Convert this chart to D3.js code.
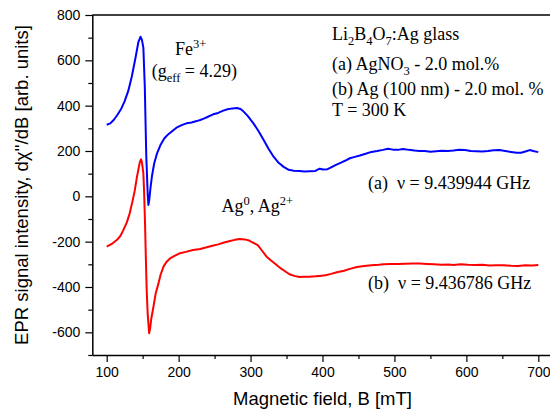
<!DOCTYPE html>
<html>
<head>
<meta charset="utf-8">
<script src="https://cdn.jsdelivr.net/npm/d3@7"></script>
<style>
  html, body { margin: 0; padding: 0; background: #fff; }
  svg { display: block; }
</style>
</head>
<body>
<svg id="chart" width="550" height="414"></svg>
<script>
// ---- data ----
const fieldA = [100,105,110,115,120,125,130,135,140,144,147,149,151,153,155,157,158,159,161,163,166,170,175,180,185,190,197,205,211,218,225,230,235,240,248,255,262,268,275,281,286,290,296,304,311,318,325,332,339,346,353,360,368,375,382,390,396,401,407,412,418,425,432,438,445,452,460,468,476,484,491,498,505,512,520,528,535,542,550,558,566,574,582,590,598,606,614,622,630,638,646,654,662,670,676,682,688,693,700];
const signalA = [316,322,338,360,385,420,465,530,610,680,704,690,655,480,180,10,-38,-20,40,90,145,190,228,255,272,285,303,315,322,326,332,337,343,350,362,368,378,384,388,390,385,375,355,322,288,250,210,175,148,130,117,113,112,110,111,112,122,118,120,128,138,148,158,168,174,180,188,196,200,205,210,206,205,209,205,202,200,200,197,199,201,200,202,205,204,200,199,198,200,203,204,200,196,192,192,198,204,200,195];

const fieldB = [100,107,114,119,123,128,132,136,139,142,144,146,147.7,149,151,152,153.3,154.5,155.6,157,159,160.5,162,165,168,172,175,179,183,188,195,202,210,220,230,239,247,255,262,270,278,285,292,298,304,310,316,322,328,335,342,350,355,362,368,375,382,390,396,404,412,420,430,438,448,458,468,478,485,495,505,515,525,535,545,555,565,575,582,592,602,612,622,632,642,652,662,672,682,692,700];
const signalB = [-222,-210,-193,-175,-150,-115,-75,-20,25,85,118,150,163,150,100,20,-119,-280,-413,-520,-604,-580,-540,-487,-430,-384,-345,-310,-290,-274,-262,-251,-245,-237,-232,-225,-218,-212,-205,-198,-192,-188,-190,-195,-205,-215,-240,-265,-282,-300,-318,-335,-345,-352,-356,-355,-355,-353,-351,-348,-342,-335,-328,-320,-312,-307,-304,-302,-300,-298,-299,-297,-296,-296,-298,-300,-302,-301,-303,-300,-302,-303,-302,-305,-304,-304,-306,-307,-304,-305,-303];

const xMajorTicks = [100,200,300,400,500,600,700];
const xMinorTicks = [150,250,350,450,550,650];
const yMajorTicks = [-600,-400,-200,0,200,400,600,800];
const yMinorTicks = [-700,-500,-300,-100,100,300,500,700];

const xTitle = "Magnetic field, B [mT]";
const yTitle = "EPR signal intensity, d\u03C7''/dB [arb. units]";

// ---- layout ----
const svg = d3.select("#chart");
const mLeft = 92.3, mTop = 15, mBottom = 355, mRight = 552.7;
const x = d3.scaleLinear().domain([80, 720]).range([mLeft, mRight]);
const y = d3.scaleLinear().domain([-700, 800]).range([mBottom, mTop]);

const sans = "Arial, 'Liberation Sans', sans-serif";
const serif = "'Times New Roman', 'Liberation Serif', serif";

// curves
const line = d3.line().x(d => x(d[0])).y(d => y(d[1]));
svg.append("path")
  .datum(fieldA.map((b, i) => [b, signalA[i]]))
  .attr("d", line).attr("fill", "none")
  .attr("stroke", "#0000ff").attr("stroke-width", 2).attr("stroke-linejoin", "round");
svg.append("path")
  .datum(fieldB.map((b, i) => [b, signalB[i]]))
  .attr("d", line).attr("fill", "none")
  .attr("stroke", "#ff0000").attr("stroke-width", 2).attr("stroke-linejoin", "round");

// axes
const fmt = d => String(d);
const xAxis = svg.append("g").attr("transform", `translate(0,${mBottom})`)
  .call(d3.axisBottom(x).tickValues(xMajorTicks).tickFormat(fmt).tickSize(7).tickPadding(5));
svg.append("g").attr("transform", `translate(0,${mBottom})`)
  .call(d3.axisBottom(x).tickValues(xMinorTicks).tickFormat("").tickSize(4))
  .select(".domain").remove();
const yAxis = svg.append("g").attr("transform", `translate(${mLeft},0)`)
  .call(d3.axisLeft(y).tickValues(yMajorTicks).tickFormat(fmt).tickSize(7).tickPadding(5));
svg.append("g").attr("transform", `translate(${mLeft},0)`)
  .call(d3.axisLeft(y).tickValues(yMinorTicks).tickFormat("").tickSize(4))
  .select(".domain").remove();

svg.selectAll(".domain").attr("stroke", "#000").attr("stroke-width", 1.5);
svg.selectAll(".tick line").attr("stroke", "#000").attr("stroke-width", 1.2);
svg.selectAll(".tick text").attr("font-family", sans).attr("font-size", 14).attr("fill", "#000");
xAxis.select(".domain").attr("d", `M${mLeft},0.5H${mRight}`);
yAxis.select(".domain").attr("d", `M0.5,${mTop}V${mBottom}`);

// top frame line
svg.append("line").attr("x1", mLeft).attr("x2", mRight).attr("y1", mTop).attr("y2", mTop)
  .attr("stroke", "#000").attr("stroke-width", 1.5);

// axis titles
svg.append("text").attr("x", (mLeft + mRight) / 2).attr("y", 405)
  .attr("text-anchor", "middle").attr("font-family", sans).attr("font-size", 18.5)
  .text(xTitle);
svg.append("text").attr("transform", `translate(28,${(mTop + mBottom) / 2}) rotate(-90)`)
  .attr("text-anchor", "middle").attr("font-family", sans).attr("font-size", 18.5)
  .text(yTitle);

// annotations (serif) with sub/superscripts
function rich(xp, yp, parts) {
  const t = svg.append("text").attr("x", xp).attr("y", yp)
    .attr("font-family", serif).attr("font-size", 18).attr("fill", "#000");
  let shift = 0;
  parts.forEach(p => {
    const [txt, kind] = Array.isArray(p) ? p : [p, "n"];
    let target = kind === "sup" ? -7 : kind === "sub" ? 5 : 0;
    const ts = t.append("tspan").text(txt).attr("dy", target - shift);
    if (kind !== "n") ts.attr("font-size", 12.5);
    shift = target;
  });
  return t;
}

rich(175, 55, ["Fe", ["3+", "sup"]]);
rich(151.7, 77, ["(", ["g", "n"], ["eff", "sub"], " = 4.29)"]);
rich(332, 40, ["Li", ["2", "sub"], "B", ["4", "sub"], "O", ["7", "sub"], ":Ag glass"]);
rich(332, 70, ["(a) AgNO", ["3", "sub"], " - 2.0 mol.%"]);
rich(332, 95, ["(b) Ag (100 nm) - 2.0 mol. %"]);
rich(332, 116, ["T = 300 K"]);
rich(368, 189, ["(a)\u00A0 \u03BD = 9.439944 GHz"]);
rich(368, 289, ["(b)\u00A0 \u03BD = 9.436786 GHz"]);
rich(221.5, 212, ["Ag", ["0", "sup"], ", Ag", ["2+", "sup"]]);
</script>
</body>
</html>
